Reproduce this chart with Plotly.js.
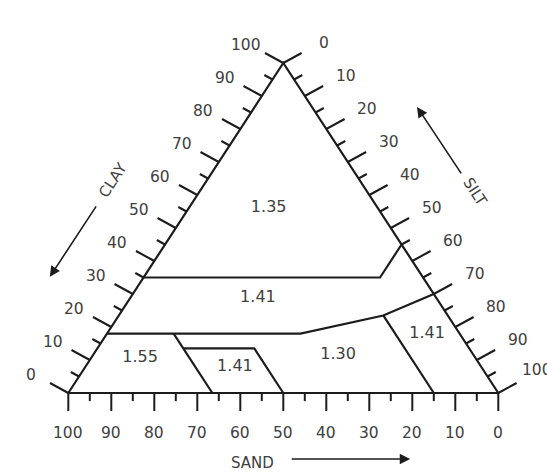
<!DOCTYPE html>
<html><head><meta charset="utf-8">
<script src="https://cdn.plot.ly/plotly-3.0.1.min.js"></script>
<style>html,body{margin:0;padding:0;background:#fff;}#chart{width:547px;height:474px;}</style>
</head><body><div id="chart"></div>
<script>
// ---- data (percent sand / clay; silt = 100 - sand - clay) ----
const tickValues = [0,5,10,15,20,25,30,35,40,45,50,55,60,65,70,75,80,85,90,95,100];
const tickLabelValues = [0,10,20,30,40,50,60,70,80,90,100];
const tickLabels = ['0','10','20','30','40','50','60','70','80','90','100'];

const outlineSand = [100, 0, 0, 100];
const outlineClay = [0, 0, 100, 0];

const upperBoundarySand = [65, 10, 0];
const upperBoundaryClay = [35, 35, 45];
const lowerBoundarySand = [82, 37, 15, 0];
const lowerBoundaryClay = [18, 18, 23.5, 30];
const sandyBoundarySand = [66.5, 66.5];
const sandyBoundaryClay = [18, 0];
const loamBoxSand = [66.5, 50, 50];
const loamBoxClay = [13.5, 13.5, 0];
const siltBoundarySand = [15, 15];
const siltBoundaryClay = [23.5, 0];

const densityLabels = ['1.35', '1.41', '1.55', '1.41', '1.30', '1.41'];
const densitySand = [25.4, 41.5, 78, 57.3, 31.5, 7.6];
const densityClay = [56, 28.8, 10.6, 7.9, 11.5, 17.9];

// ---- geometry helpers ----
const KX = 4.3, KY = 3.3; // px per percent unit
function tx(sand, clay) { return 100 - sand - clay / 2; }
function ty(sand, clay) { return clay; }
const LINE = '#1c1c1c', TEXT = '#404040';
const FONT = 'DejaVu Sans';

function lineTrace(sArr, cArr, w) {
  return { type: 'scatter', mode: 'lines', hoverinfo: 'skip', showlegend: false,
    x: sArr.map((s, i) => tx(s, cArr[i])), y: cArr.map((c, i) => ty(sArr[i], c)),
    line: { color: LINE, width: w } };
}

const traces = [];
traces.push(lineTrace(outlineSand, outlineClay, 2.2));
[[upperBoundarySand, upperBoundaryClay], [lowerBoundarySand, lowerBoundaryClay],
 [sandyBoundarySand, sandyBoundaryClay], [loamBoxSand, loamBoxClay],
 [siltBoundarySand, siltBoundaryClay]].forEach(p => traces.push(lineTrace(p[0], p[1], 2.2)));

// ticks
const MAJ = 20, MIN = 9;
const tkx = [], tky = [];
tickValues.forEach(v => {
  const len = v % 10 === 0 ? MAJ : MIN;
  const sx = tx(v, 0), sy = 0;
  tkx.push(sx, sx, null); tky.push(sy, sy - len * 0.9 / KY, null);
  const cx = tx(100 - v, v), cy = v;
  const f = len / MAJ;
  tkx.push(cx, cx - 18.3 * f / KX, null); tky.push(cy, cy + 10 * f / KY, null);
  const zx = tx(0, 100 - v), zy = 100 - v;
  tkx.push(zx, zx + 18.3 * f / KX, null); tky.push(zy, zy + 10 * f / KY, null);
});
traces.push({ type: 'scatter', mode: 'lines', x: tkx, y: tky, hoverinfo: 'skip', showlegend: false,
  line: { color: LINE, width: 2 } });

traces.push({ type: 'scatter', mode: 'text', hoverinfo: 'skip', showlegend: false,
  x: densitySand.map((s, i) => tx(s, densityClay[i])), y: densityClay,
  text: densityLabels, textposition: 'middle center',
  textfont: { family: FONT, size: 16, color: TEXT } });

const ann = [];
const tf = { family: FONT, size: 15.5, color: TEXT };
tickLabelValues.forEach((v, i) => {
  ann.push({ x: tx(v, 0), y: 0, text: tickLabels[i], showarrow: false, yshift: -40, font: tf });
  ann.push({ x: tx(100 - v, v), y: v, text: tickLabels[i], showarrow: false, xshift: -37, yshift: 18, font: tf });
  ann.push({ x: tx(0, 100 - v), y: 100 - v, text: tickLabels[i], showarrow: false,
    xshift: v === 100 ? 39 : 41, yshift: v === 100 ? 23 : 20, font: tf });
});
// axis names
const nf = { family: FONT, size: 15, color: TEXT };
ann.push({ x: 42.8, y: -21.2, text: 'SAND', showarrow: false, font: nf });
ann.push({ x: 10.4, y: 64.5, text: 'CLAY', showarrow: false, textangle: -57, font: nf });
ann.push({ x: 94.6, y: 60.9, text: 'SILT', showarrow: false, textangle: 57, font: nf });
// direction arrows
const arr = { showarrow: true, arrowhead: 2, arrowsize: 1.3, arrowwidth: 1.6, arrowcolor: LINE,
  axref: 'x', ayref: 'y', text: '', standoff: 0, startstandoff: 0 };
ann.push(Object.assign({}, arr, { x: 79.5, y: -20, ax: 51.6, ay: -20 }));
ann.push(Object.assign({}, arr, { x: -4.3, y: 35.2, ax: 6.7, ay: 57 }));
ann.push(Object.assign({}, arr, { x: 81.1, y: 86.7, ax: 91.6, ay: 66.1 }));

const layout = {
  width: 547, height: 474, margin: { l: 0, r: 0, t: 0, b: 0 },
  paper_bgcolor: '#fff', plot_bgcolor: '#fff', showlegend: false,
  xaxis: { range: [-68.3 / KX, (547 - 68.3) / KX], visible: false, fixedrange: true },
  yaxis: { range: [(393 - 474) / KY, 393 / KY], visible: false, fixedrange: true },
  annotations: ann
};
Plotly.newPlot('chart', traces, layout, { staticPlot: true, displayModeBar: false });
</script></body></html>
